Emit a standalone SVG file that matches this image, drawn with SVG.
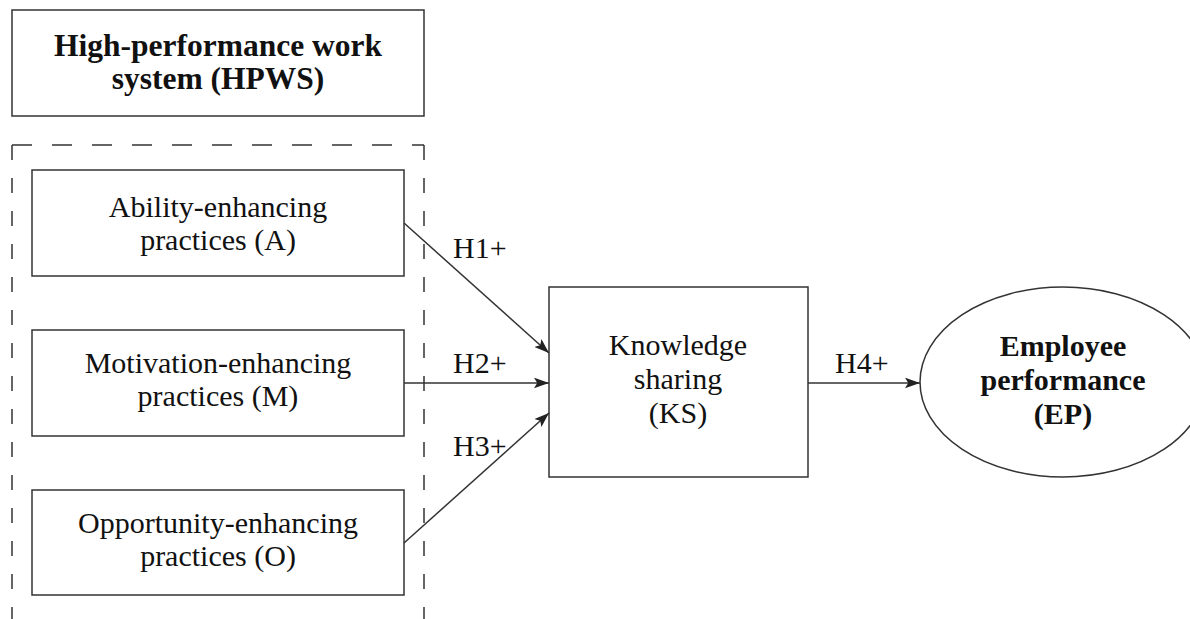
<svg xmlns="http://www.w3.org/2000/svg" width="1190" height="619" viewBox="0 0 1190 619">
<style>
.box{fill:#fff;stroke:#333;stroke-width:1.5}
.t{font-family:"Liberation Serif","Times New Roman",serif;font-size:30px;fill:#111;text-anchor:middle}
.b{font-weight:bold}
.big{font-size:31.5px}
.lbl{font-family:"Liberation Serif","Times New Roman",serif;font-size:30px;fill:#111}
.c{stroke:#333;stroke-width:1.5;fill:none;marker-end:url(#ah)}
.dh{stroke:#333;stroke-width:1.5;fill:none;stroke-dasharray:20,20}
.dv{stroke:#333;stroke-width:1.5;fill:none;stroke-dasharray:15,18}
</style>
<defs>
<marker id="ah" viewBox="0 0 14 10" refX="14" refY="5" markerWidth="15" markerHeight="11" markerUnits="userSpaceOnUse" orient="auto">
<path d="M0,0 L14,5 L0,10 L3,5 Z" fill="#222"/>
</marker>
</defs>
<rect width="1190" height="619" fill="#fff"/>
<g id="hpws">
<rect class="box" x="12" y="10" width="412" height="106"/>
<text class="t b big" x="218" y="56">High-performance work</text>
<text class="t b big" x="218" y="89">system (HPWS)</text>
</g>
<g id="hpws-group">
<path class="dh" d="M12,145 H424"/>
<path class="dv" d="M12,145 V640"/>
<path class="dv" d="M424,145 V640"/>
</g>
<g id="ability">
<rect class="box" x="32" y="170" width="372" height="106"/>
<text class="t" x="218" y="217">Ability-enhancing</text>
<text class="t" x="218" y="250">practices (A)</text>
</g>
<g id="motivation">
<rect class="box" x="32" y="330" width="372" height="106"/>
<text class="t" x="218" y="373">Motivation-enhancing</text>
<text class="t" x="218" y="406">practices (M)</text>
</g>
<g id="opportunity">
<rect class="box" x="32" y="490" width="372" height="105"/>
<text class="t" x="218" y="533">Opportunity-enhancing</text>
<text class="t" x="218" y="566">practices (O)</text>
</g>
<g id="ks">
<rect class="box" x="549" y="287" width="259" height="190"/>
<text class="t" x="678" y="355">Knowledge</text>
<text class="t" x="678" y="389">sharing</text>
<text class="t" x="678" y="423">(KS)</text>
</g>
<g id="ep">
<ellipse cx="1063" cy="382" rx="143" ry="95" fill="#fff" stroke="#333" stroke-width="1.5"/>
<text class="t b" x="1063" y="356">Employee</text>
<text class="t b" x="1063" y="390">performance</text>
<text class="t b" x="1063" y="424">(EP)</text>
</g>
<g id="connectors">
<line class="c" x1="404" y1="223" x2="549" y2="353"/>
<line class="c" x1="404" y1="383" x2="549" y2="383"/>
<line class="c" x1="404" y1="543" x2="549" y2="413"/>
<line class="c" x1="808" y1="383" x2="920" y2="383"/>
<text class="lbl" x="453" y="258">H1+</text>
<text class="lbl" x="453" y="373">H2+</text>
<text class="lbl" x="453" y="456">H3+</text>
<text class="lbl" x="835" y="373">H4+</text>
</g>
</svg>
